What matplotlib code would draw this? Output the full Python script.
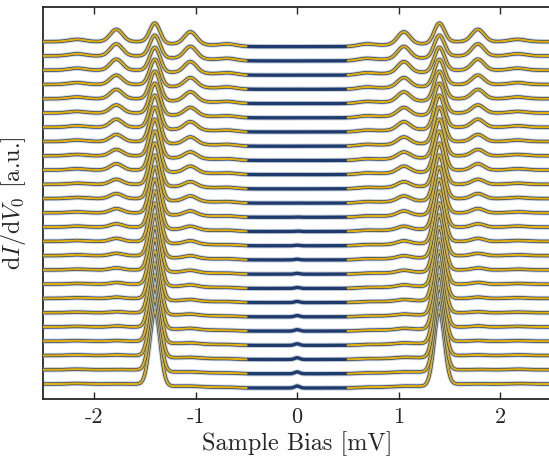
import numpy as np
import matplotlib
matplotlib.use("Agg")
import matplotlib.pyplot as plt
from matplotlib import rcParams

rcParams['mathtext.fontset'] = 'cm'
rcParams['font.family'] = 'cmr10'
rcParams['axes.unicode_minus'] = False

# per-spectrum parameters, listed top curve -> bottom curve
# (units: one vertical offset step between spectra)
main_amp = [1.33, 1.48, 1.63, 1.79, 1.95, 2.11, 2.27, 2.43, 2.59, 2.75, 2.91, 3.07, 3.23,
            3.39, 3.55, 3.71, 3.87, 4.03, 4.19, 4.35, 4.51, 4.67, 4.83, 4.99, 5.15]
sat_amp = [0.86, 0.84, 0.77, 0.65, 0.65, 0.56, 0.56, 0.49, 0.44, 0.44, 0.35, 0.35, 0.30,
           0.23, 0.21, 0.16, 0.14, 0.12, 0.09, 0.07, 0.07, 0.05, 0.04, 0.02, 0.02]
small_amp = [0.16, 0.15, 0.14, 0.13, 0.12, 0.11, 0.10, 0.10, 0.09, 0.09, 0.08, 0.08, 0.07,
             0.07, 0.06, 0.06, 0.05, 0.05, 0.05, 0.04, 0.04, 0.04, 0.04, 0.04, 0.04]
zbp_amp = [0.0, 0.0, 0.0, 0.0, 0.0, 0.0, 0.0, 0.0, 0.0, 0.0, 0.0, 0.01, 0.02,
           0.03, 0.04, 0.05, 0.06, 0.07, 0.08, 0.09, 0.10, 0.11, 0.12, 0.13, 0.14]
gap_edge = [0.15] * 25
gap_center = [0.20, 0.20, 0.20, 0.19, 0.19, 0.19, 0.18, 0.18, 0.18, 0.17, 0.17, 0.17, 0.16,
              0.16, 0.16, 0.15, 0.15, 0.15, 0.14, 0.14, 0.14, 0.14, 0.13, 0.13, 0.13]

# peak positions in mV
main_pos = 1.40
outer_sat_pos = 1.78
inner_sat_pos = 1.05
small_pos = [0.68, 2.17]
fit_cut = 0.5

V = np.linspace(-2.5, 2.5, 1201)


def gauss(x, x0, w):
    return np.exp(-(x - x0) ** 2 / (2 * w ** 2))


def step(x, edge, soft):
    return 1 / (1 + np.exp((np.abs(x) - edge) / soft))


def spectrum(i):
    s = -gap_edge[i] * step(V, 1.36, 0.03)
    s -= gap_center[i] * step(V, 0.85, 0.1)
    for sign in (-1, 1):
        s += main_amp[i] * gauss(V, sign * main_pos, 0.05)
        s += sat_amp[i] * gauss(V, sign * outer_sat_pos, 0.06)
        s += sat_amp[i] * gauss(V, sign * inner_sat_pos, 0.06)
        for p in small_pos:
            s += small_amp[i] * gauss(V, sign * p, 0.08)
    s += zbp_amp[i] * gauss(V, 0, 0.025)
    return s


n = len(main_amp)
fig = plt.figure(figsize=(5.49, 4.59), dpi=100)
ax = fig.add_axes([43.25 / 549, 60 / 459, 507.75 / 549, 392 / 459])

for k in range(n):
    i = n - 1 - k          # bottom curve first
    y = spectrum(i) + k
    ax.plot(V, y, color='#a3aec0', lw=3.8, alpha=0.6, zorder=2 * k + 1, solid_capstyle='butt')
    ax.plot(V, y, color='#1f3b6e', lw=2.4, zorder=2 * k + 1, solid_capstyle='butt')
    fit = np.where(np.abs(V) >= fit_cut, y, np.nan)
    ax.plot(V, fit, color='#E3B00F', lw=1.5, zorder=2 * k + 2)

ax.set_xlim(-2.5, 2.5)
ax.set_ylim(-1.05, 26.43)
ax.set_xticks([-2, -1, 0, 1, 2])
ax.set_xticklabels(['-2', '-1', '0', '1', '2'])
ax.set_yticks([])
ax.tick_params(axis='x', direction='in', top=True, length=5, width=1.0,
               labelsize=16, colors='#262626', pad=6)
for sp in ax.spines.values():
    sp.set_color('#262626')
    sp.set_linewidth(1.3)

ax.set_xlabel('Sample Bias [mV]', fontsize=17.5, color='#262626', labelpad=3)
ax.set_ylabel(r'$\mathrm{d}I/\mathrm{d}V_0$ [a.u.]', fontsize=17.5, color='#262626')
ax.yaxis.set_label_coords(-0.03, 0.5)

fig.savefig('out.png', dpi=100)
